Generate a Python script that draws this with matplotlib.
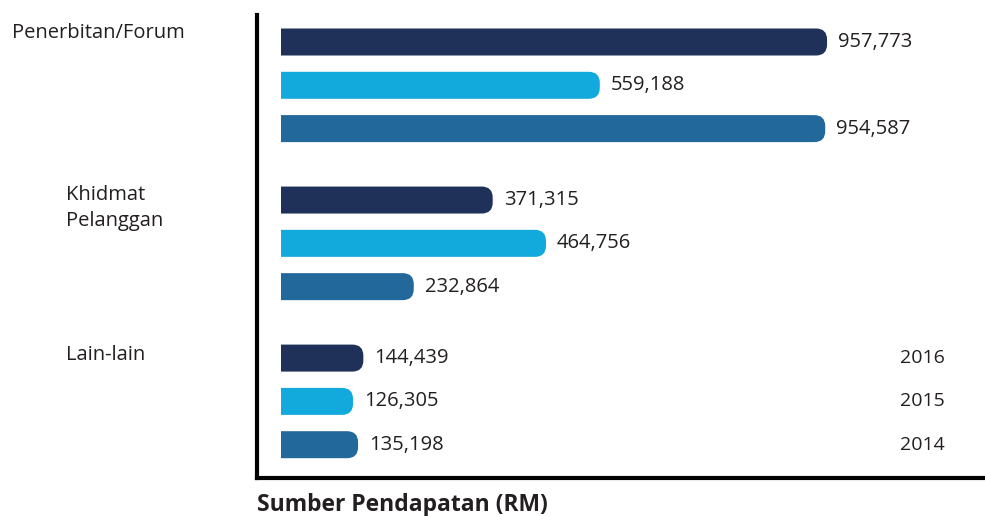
import matplotlib.pyplot as plt
from matplotlib.patches import FancyBboxPatch, Rectangle

categories = ["Penerbitan/Forum", "Khidmat\nPelanggan", "Lain-lain"]
years = ["2016", "2015", "2014"]
values_2016 = [957773, 371315, 144439]
values_2015 = [559188, 464756, 126305]
values_2014 = [954587, 232864, 135198]
colors = ["#1F3158", "#12A9DD", "#22689A"]

plt.rcParams["font.family"] = ["Open Sans", "DejaVu Sans"]
text_color = "#231F20"

W, H = 985, 516
fig = plt.figure(figsize=(W / 100, H / 100), dpi=100)
ax = fig.add_axes([257 / W, 1 - 478 / H, 1 - 257 / W, (478 - 15) / H])

px_x = 1754.0        # data units per pixel along x
px_y = 1 / 43.3      # data units per pixel along y
ax.set_xlim(-24 * px_x, (W - 281) * px_x)
ax.set_ylim(436 * px_y, -27 * px_y)

group_step = 3.65
bar_h = 27 * px_y
rs = 11 * px_x
aspect = px_y / px_x

series = [values_2016, values_2015, values_2014]
for s, vals in enumerate(series):
    for g, v in enumerate(vals):
        y = g * group_step + s
        box = FancyBboxPatch(
            (-rs, y - bar_h / 2), v + rs, bar_h,
            boxstyle=f"round,pad=0,rounding_size={rs}",
            mutation_aspect=aspect,
            facecolor=colors[s], edgecolor="none",
        )
        ax.add_patch(box)
        clip = Rectangle((0, -10), 1e9, 100, transform=ax.transData)
        box.set_clip_path(clip)
        ax.annotate(f"{v:,}", (v, y), xytext=(8, 0), textcoords="offset points",
                    ha="left", va="center", fontsize=14.5, color=text_color)

# category labels
fig.text(12 / W, 1 - 33 / H, categories[0], ha="left", va="center",
         fontsize=14.5, color=text_color)
fig.text(66 / W, 1 - 208 / H, categories[1], ha="left", va="center",
         fontsize=14.5, color=text_color, linespacing=1.45)
fig.text(66 / W, 1 - 355 / H, categories[2], ha="left", va="center",
         fontsize=14.5, color=text_color)

# year legend (no swatches, as in the original)
year_rows = [0, 1, 2]
for s, yr in zip(year_rows, years):
    ax.text((900 - 281) * px_x, 2 * group_step + s, yr,
            ha="left", va="center", fontsize=14, color=text_color)

fig.text(257 / W, 1 - 505 / H, "Sumber Pendapatan (RM)", ha="left", va="center",
         fontsize=16.5, fontweight="bold", color=text_color)

for side in ["top", "right"]:
    ax.spines[side].set_visible(False)
for side in ["left", "bottom"]:
    ax.spines[side].set_linewidth(3)
    ax.spines[side].set_color("black")
ax.set_xticks([])
ax.set_yticks([])

fig.savefig("out.png", dpi=100)
